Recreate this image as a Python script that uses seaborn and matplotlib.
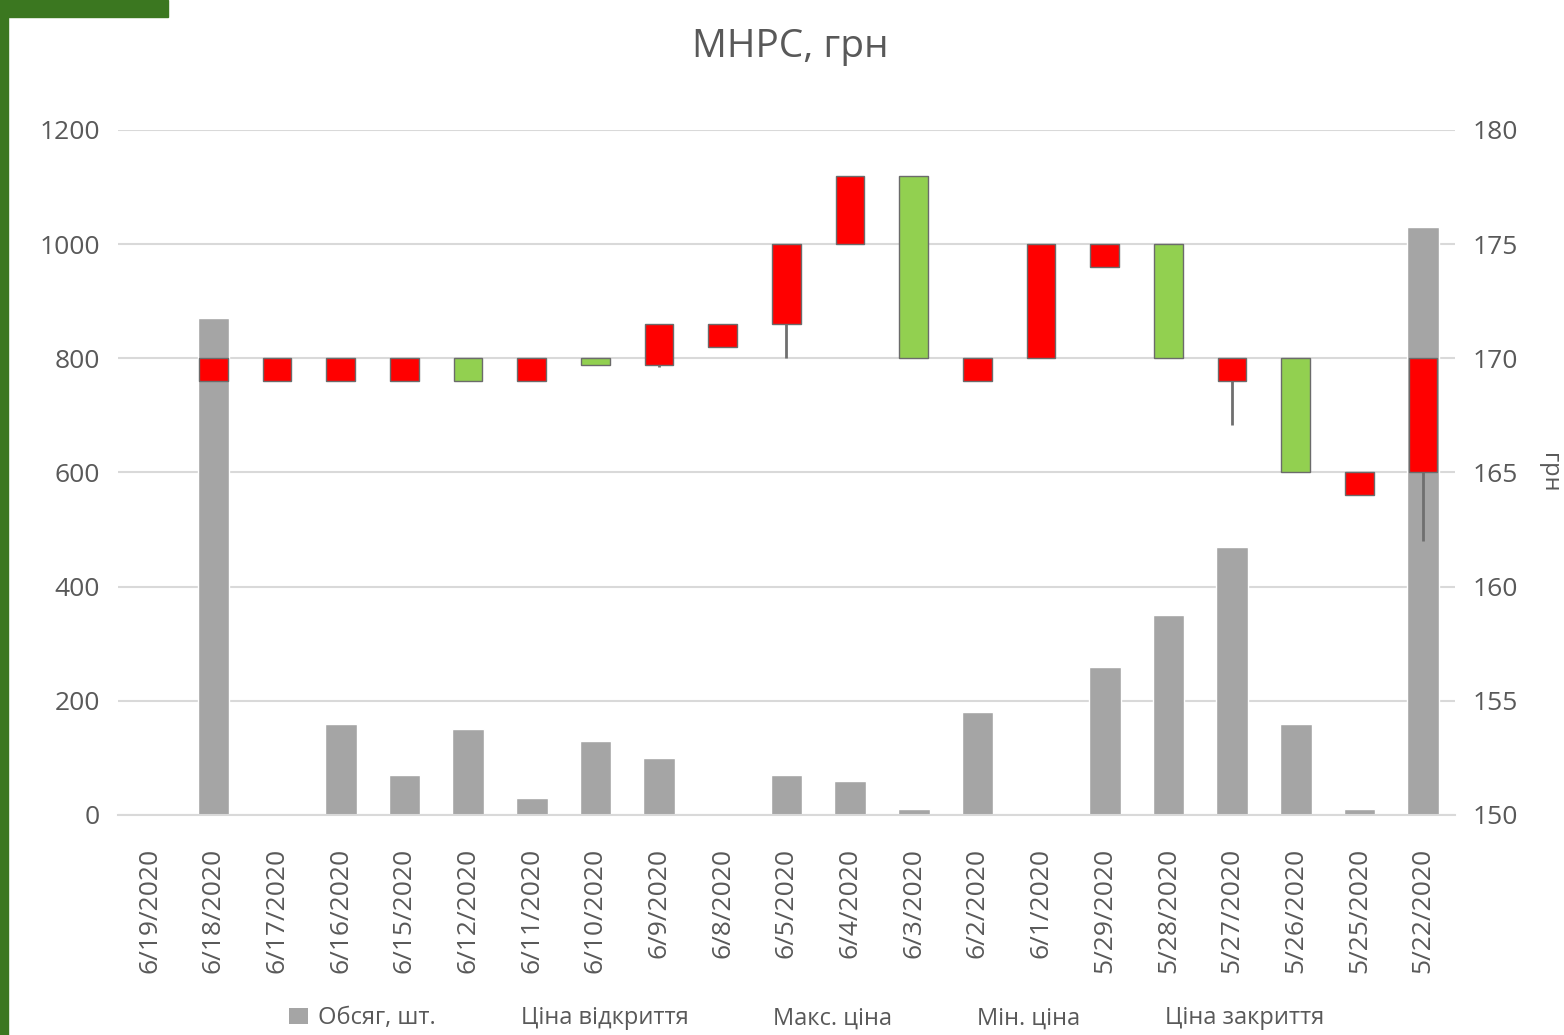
import numpy as np
import pandas as pd
import matplotlib.pyplot as plt
from matplotlib.patches import Patch, Rectangle
from matplotlib.lines import Line2D
import seaborn as sns

sns.set_theme(style='white')
plt.rcParams['font.family'] = ['Open Sans', 'DejaVu Sans']

# ====================
#  DATA
# ====================

dates = ['6/19/2020', '6/18/2020', '6/17/2020', '6/16/2020', '6/15/2020',
         '6/12/2020', '6/11/2020', '6/10/2020', '6/9/2020', '6/8/2020',
         '6/5/2020', '6/4/2020', '6/3/2020', '6/2/2020', '6/1/2020',
         '5/29/2020', '5/28/2020', '5/27/2020', '5/26/2020', '5/25/2020',
         '5/22/2020']
volume = [0, 870, 0, 160, 70, 150, 30, 130, 100, 0, 70, 60, 10, 180, 0,
          260, 350, 470, 160, 10, 1030]
price_open = [np.nan, 170, 170, 170, 170, 169, 170, 169.7, 171.5, 171.5, 175,
              178, 170, 170, 175, 175, 170, 170, 165, 165, 170]
price_high = [np.nan, 170, 170, 170, 170, 170, 170, 170, 171.5, 171.5, 175,
              178, 178, 170, 175, 175, 175, 170, 170, 165, 170]
price_low = [np.nan, 169, 169, 169, 169, 169, 169, 169.7, 169.6, 170.5, 170,
             175, 170, 169, 170, 174, 170, 167.1, 165, 164, 162]
price_close = [np.nan, 169, 169, 169, 169, 170, 169, 170, 169.7, 170.5, 171.5,
               175, 178, 169, 170, 174, 175, 169, 170, 164, 165]

legend_labels = ['Обсяг, шт.', 'Ціна відкриття', 'Макс. ціна', 'Мін. ціна',
                 'Ціна закриття']

TEXT = '#595959'
GRID = '#d9d9d9'

# ====================
#  PLOT
# ====================

def main():
    df = pd.DataFrame({'date': dates, 'volume': volume, 'open': price_open,
                       'high': price_high, 'low': price_low,
                       'close': price_close})
    x = np.arange(len(df))

    fig = plt.figure(figsize=(15.64, 10.35), dpi=100)
    fig.patch.set_facecolor('white')
    fig.add_artist(Rectangle((0, 0), 8 / 1564, 1, transform=fig.transFigure,
                             color='#3b7720', zorder=0))
    fig.add_artist(Rectangle((0, 1 - 17 / 1035), 168 / 1564, 17 / 1035,
                             transform=fig.transFigure, color='#3b7720',
                             zorder=0))

    ax = fig.add_axes([0.0754, 0.2126, 0.8549, 0.6618])
    sns.barplot(data=df, x='date', y='volume', order=dates, ax=ax,
                color='#a5a5a5', saturation=1, width=0.5, errorbar=None)
    ax.set_xlim(-0.5, len(df) - 0.5)
    ax.set_ylim(0, 1200)
    ax.set_yticks(range(0, 1201, 200))
    ax.set_xlabel('')
    ax.set_ylabel('')
    ax.yaxis.grid(True, color=GRID, lw=1.5)
    ax.set_axisbelow(True)

    ax.set_xticks(x)
    ax.set_xticklabels(dates, rotation=90)
    ax.set_xticks(np.arange(-0.5, len(df)), minor=True)
    ax.tick_params(axis='x', which='major', length=0, pad=24,
                   labelsize=19, labelcolor=TEXT)
    ax.tick_params(axis='x', which='minor', length=9, width=1.5, color=GRID)
    ax.tick_params(axis='y', length=0, pad=13, labelsize=19, labelcolor=TEXT)

    # candlesticks on the price axis
    ax2 = ax.twinx()
    ax2.set_ylim(150, 180)
    ax2.set_yticks(range(150, 181, 5))
    ax2.tick_params(axis='y', length=0, pad=13, labelsize=19, labelcolor=TEXT)

    valid = df['open'].notna().values
    body_low = np.minimum(df['open'], df['close'])
    body_h = (df['close'] - df['open']).abs()
    colors = np.where(df['close'] >= df['open'], '#92d050', '#ff0000')
    ax2.vlines(x[valid], df['low'][valid], df['high'][valid],
               color='#6f6f6f', lw=2, zorder=2)
    ax2.bar(x[valid], body_h[valid], bottom=body_low[valid], width=0.45,
            color=colors[valid], edgecolor='#6b6b6b', linewidth=1, zorder=3)

    ax2.set_ylabel('грн', rotation=270, fontsize=17, color=TEXT, va='center')
    ax2.yaxis.set_label_coords(1.0705, 0.5)

    for a in (ax, ax2):
        for side in ('top', 'left', 'right', 'bottom'):
            a.spines[side].set_visible(False)
    ax.spines['bottom'].set_visible(True)
    ax.spines['bottom'].set_color(GRID)
    ax.spines['bottom'].set_linewidth(1.5)

    fig.text(0.505, 1 - 47 / 1035, 'МНРС, грн', ha='center', va='center',
             fontsize=28, color=TEXT)

    handles = [Patch(facecolor='#a5a5a5', edgecolor='none')]
    handles += [Line2D([], [], linestyle='none') for _ in range(4)]
    fig.legend(handles, legend_labels, loc='center', ncol=5,
               bbox_to_anchor=(0.516, 0.016), frameon=False, fontsize=17,
               labelcolor=TEXT, handlelength=0.8, handletextpad=0.4,
               columnspacing=2.4)

    fig.savefig('out.png', dpi=100)
    plt.close(fig)


if __name__ == "__main__":
    main()
